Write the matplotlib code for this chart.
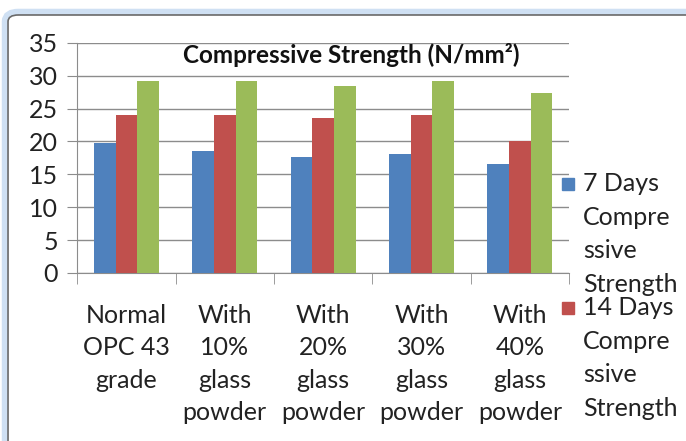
import matplotlib.pyplot as plt
import numpy as np
from matplotlib.patches import FancyBboxPatch, Rectangle

# data
categories = ["Normal\nOPC 43\ngrade",
              "With\n10%\nglass\npowder",
              "With\n20%\nglass\npowder",
              "With\n30%\nglass\npowder",
              "With\n40%\nglass\npowder"]
days_7 = [19.7, 18.5, 17.7, 18.1, 16.6]
days_14 = [24.0, 24.0, 23.6, 24.0, 20.0]
days_28 = [29.2, 29.2, 28.4, 29.2, 27.4]
legend_labels = ["7 Days\nCompre\nssive\nStrength", "14 Days\nCompre\nssive\nStrength"]

colors = ["#4F81BD", "#C0504D", "#9BBB59"]

plt.rcParams['font.family'] = ['Lato', 'DejaVu Sans']

W, H = 686, 441
fig = plt.figure(figsize=(W / 100, H / 100), dpi=100)

# outer rounded frame with a light blue glow
glow = FancyBboxPatch((0.0117, -0.1), 1.1, 1.066, boxstyle="round,pad=0,rounding_size=0.015",
                      transform=fig.transFigure, facecolor="none", edgecolor="#cfe0f3",
                      linewidth=9, zorder=0)
frame = FancyBboxPatch((0.0117, -0.1), 1.1, 1.066, boxstyle="round,pad=0,rounding_size=0.015",
                       transform=fig.transFigure, facecolor="white", edgecolor="#6a6a6a",
                       linewidth=1.2, zorder=1)
fig.patches.extend([glow, frame])

ax = fig.add_axes([0.1125, 0.381, 0.717, 0.522])
ax.set_zorder(2)
ax.patch.set_visible(False)

x = np.arange(len(categories))
w = 0.22
ax.bar(x - w, days_7, w, color=colors[0], zorder=3)
ax.bar(x, days_14, w, color=colors[1], zorder=3)
ax.bar(x + w, days_28, w, color=colors[2], zorder=3)

ax.set_xlim(-0.5, len(categories) - 0.5)
ax.set_ylim(0, 35)
ax.set_yticks(range(0, 36, 5))
ax.yaxis.grid(True, color="#8c8c8c", linewidth=1)
ax.set_axisbelow(True)

for s in ["top", "right"]:
    ax.spines[s].set_visible(False)
ax.spines["left"].set_color("#8c8c8c")
ax.spines["bottom"].set_color("#8c8c8c")

ax.set_xticks(np.arange(len(categories) + 1) - 0.5, minor=True)
ax.set_xticks(x)
ax.set_xticklabels(categories, fontsize=18, color="#222222", va="top")
ax.tick_params(axis="x", which="major", length=0, pad=22)
ax.tick_params(axis="x", which="minor", length=8, color="#8c8c8c")
ax.tick_params(axis="y", length=7, color="#8c8c8c", labelsize=18, labelcolor="#222222", pad=7)
for t in ax.get_xticklabels():
    t.set_linespacing(1.5)

ax.text(0.557, 0.947, "Compressive Strength (N/mm²)", transform=ax.transAxes,
        ha="center", va="center", fontsize=17.5, fontweight="bold", color="#111111")

# legend drawn by hand: square beside the first line of each wrapped label
legend_tops = [172, 296]
for lab, col, top in zip(legend_labels, colors, legend_tops):
    fig.patches.append(Rectangle((562 / W, 1 - (top + 18) / H), 12 / W, 12 / H,
                                 transform=fig.transFigure, color=col, zorder=3))
    fig.text(583 / W, 1 - top / H, lab, fontsize=18, color="#222222",
             va="top", ha="left", linespacing=1.56, zorder=3)

fig.savefig("out.png", dpi=100)
